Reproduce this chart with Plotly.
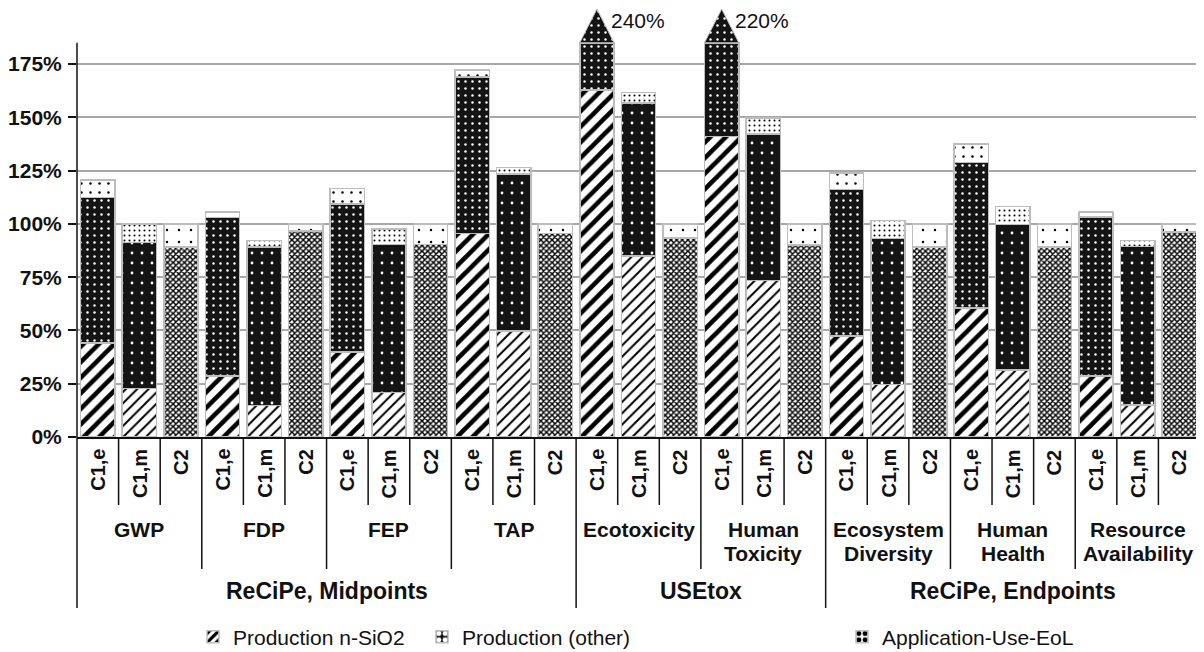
import plotly.graph_objects as go

# ---------------- data ----------------
scenarios = ["C1,e", "C1,m", "C2"]
groups = ["GWP", "FDP", "FEP", "TAP", "Ecotoxicity", "Human<br>Toxicity",
          "Ecosystem<br>Diversity", "Human<br>Health", "Resource<br>Availability"]
families = ["ReCiPe, Midpoints", "USEtox", "ReCiPe, Endpoints"]
family_sizes = [4, 2, 3]          # number of indicator groups per family
series_names = ["Production n-SiO2", "Production (other)", "Application-Use-EoL"]

# values in % (order: group x scenario)
nsio2 = [44.0, 22.8, 0.0, 28.6, 14.7, 0.0, 40.0, 20.8, 0.0,
         95.6, 49.7, 0.0, 162.8, 84.9, 0.0, 140.9, 73.5, 0.0,
         47.4, 24.7, 0.0, 60.5, 31.4, 0.0, 28.6, 15.0, 0.0]
other = [68.3, 68.4, 89.2, 74.3, 74.5, 96.7, 69.3, 69.6, 90.4,
         73.4, 73.7, 95.6, 72.2, 71.8, 93.5, 71.5, 68.7, 90.1,
         68.8, 68.5, 89.2, 68.4, 68.4, 89.2, 74.6, 74.3, 96.2]
app = [8.3, 8.8, 10.8, 2.8, 2.9, 3.3, 7.4, 7.2, 9.6,
       3.2, 3.0, 4.4, 5.0, 4.9, 6.5, 7.6, 7.6, 9.9,
       7.8, 8.3, 10.8, 8.5, 8.3, 10.8, 2.4, 2.8, 3.8]

y_ticks = [0, 25, 50, 75, 100, 125, 150, 175]
y_tick_labels = [f"{v}%" for v in y_ticks]

# ---------------- style / geometry ----------------
FONT = "Liberation Sans, Arial, sans-serif"
CAP = 185.0          # axis break value
ARROW_TIP = 200.8
BAR_W = 0.825
OFF = 8              # default page margin of the html body
W, H = 1204 - OFF, 652 - OFF
M_L, M_R = 77 - OFF, 4
Y0_PAGE = 437        # page row of the 0 % line
PX_PER_PCT = 2.131
M_B = H - (Y0_PAGE - OFF)
M_T = 0
PLOT_H = H - M_T - M_B
Y_TOP = PLOT_H / PX_PER_PCT


def py(page_px):
    """page pixel row -> paper y"""
    return (Y0_PAGE - page_px) / PLOT_H


n = len(groups) * len(scenarios)
xs = list(range(n))

# capped stacked segments
seg1, seg2, seg3, totals = [], [], [], []
for a, b, c in zip(nsio2, other, app):
    t = a + b + c
    totals.append(t)
    s1 = min(a, CAP)
    s2 = min(a + b, CAP) - s1
    s3 = min(t, CAP) - s1 - s2
    seg1.append(s1)
    seg2.append(s2)
    seg3.append(s3)


def per_bar(lst):
    return [lst[i % len(scenarios)] for i in range(n)]


DARK = "#141414"
patterns = [
    dict(shape=["/", "/", "/"], size=[11, 8, 9], solidity=[0.42, 0.25, 0.3],
         fg=["black", "black", "black"], bg=["white", "white", "white"], legend_color="black"),
    dict(shape=[".", ".", "x"], size=[7, 10, 4], solidity=[0.1, 0.06, 0.6],
         fg=["white", "white", "black"], bg=[DARK, DARK, "white"], legend_color=DARK),
    dict(shape=[".", ".", "."], size=[9, 5, 12], solidity=[0.06, 0.13, 0.035],
         fg=["black", "black", "black"], bg=["white", "white", "white"], legend_color="black"),
]

fig = go.Figure()
legend_ids = ["legend", "legend2", "legend3"]
for k, (name, vals, pat) in enumerate(zip(series_names, [seg1, seg2, seg3], patterns)):
    fig.add_trace(go.Bar(
        x=xs, y=vals, name=name, width=BAR_W,
        legend=legend_ids[k],
        marker=dict(
            color=pat["legend_color"],
            line=dict(color="#bdbdbd", width=1.5),
            pattern=dict(shape=per_bar(pat["shape"]), size=per_bar(pat["size"]),
                         solidity=per_bar(pat["solidity"]),
                         fgcolor=per_bar(pat["fg"]), bgcolor=per_bar(pat["bg"]),
                         fillmode="replace"),
        ),
        hoverinfo="skip",
    ))

annotations = []
# arrows for bars exceeding the axis break
for i, t in enumerate(totals):
    if t > CAP:
        fig.add_trace(go.Scatter(
            x=[i - BAR_W / 2, i, i + BAR_W / 2, i - BAR_W / 2],
            y=[CAP, ARROW_TIP, CAP, CAP],
            mode="lines", fill="toself",
            line=dict(color="#bdbdbd", width=1),
            fillcolor=DARK,
            fillpattern=dict(shape=".", size=7, solidity=0.1, fgcolor="white",
                             bgcolor=DARK, fillmode="replace"),
            showlegend=False, hoverinfo="skip",
        ))
        annotations.append(dict(
            x=i + 0.28, y=195.5, xref="x", yref="y", xanchor="left", yanchor="middle",
            text=f"{t:.0f}%", showarrow=False,
            font=dict(family=FONT, size=21, color="#111"),
        ))

# scenario labels
for i in xs:
    annotations.append(dict(
        x=i, xref="x", y=py(447), yref="paper", yanchor="top", xanchor="center",
        text=scenarios[i % len(scenarios)], textangle=-90, showarrow=False,
        font=dict(family=FONT, size=20, color="#111", weight="bold"),
    ))
# group labels (one annotation per line, 24 px line spacing)
for g, name in enumerate(groups):
    for j, line in enumerate(name.split("<br>")):
        annotations.append(dict(
            x=g * 3 + 1, xref="x", y=py(529 + 24 * j), yref="paper", yanchor="middle",
            xanchor="center", text=line, showarrow=False,
            font=dict(family=FONT, size=21, color="#111", weight="bold"),
        ))
# family labels
start = 0
for fam, size in zip(families, family_sizes):
    nb = size * 3
    annotations.append(dict(
        x=start + (nb - 1) / 2, xref="x", y=py(591), yref="paper", yanchor="middle",
        xanchor="center", text=fam, showarrow=False,
        font=dict(family=FONT, size=23, color="#111", weight="bold"),
    ))
    start += nb

# separator lines below the axis
shapes = []
fam_bounds = [0]
for size in family_sizes:
    fam_bounds.append(fam_bounds[-1] + size * 3)
for b in range(n + 1):
    if b in fam_bounds:
        end = 608
    elif b % 3 == 0:
        end = 569
    else:
        end = 505
    shapes.append(dict(type="line", xref="paper", yref="paper",
                       x0=b / n, x1=b / n, y0=0, y1=py(end),
                       line=dict(color="#111", width=1.5)))
# y axis line up to the break
shapes.append(dict(type="line", xref="paper", yref="y", x0=0, x1=0, y0=0, y1=CAP,
                   line=dict(color="#111", width=1.5)))

legend_x_page = [193, 422, 842]
legend_common = dict(orientation="h", yref="paper", y=py(637), yanchor="middle",
                     xref="container", xanchor="left", bgcolor="rgba(0,0,0,0)",
                     font=dict(family=FONT, size=21, color="#111"))

fig.update_layout(
    width=W, height=H,
    margin=dict(l=M_L, r=M_R, t=M_T, b=M_B, autoexpand=False),
    barmode="stack",
    plot_bgcolor="white", paper_bgcolor="white",
    font=dict(family=FONT, color="#111"),
    xaxis=dict(range=[-0.5, n - 0.5], showticklabels=False, ticks="",
               showgrid=False, zeroline=False, showline=True,
               linecolor="#111", linewidth=1.5, automargin=False),
    yaxis=dict(range=[0, Y_TOP], tickvals=y_ticks, ticktext=y_tick_labels,
               showgrid=True, gridcolor="#a8a8a8", gridwidth=1.5,
               zeroline=False, showline=False, ticks="outside", ticklen=8,
               tickcolor="#111", tickwidth=1.5, ticklabelstandoff=2, automargin=False,
               tickfont=dict(family=FONT, size=21, color="#111", weight="bold")),
    annotations=annotations,
    shapes=shapes,
    legend=dict(legend_common, x=(legend_x_page[0] - OFF) / W),
    legend2=dict(legend_common, x=(legend_x_page[1] - OFF) / W),
    legend3=dict(legend_common, x=(legend_x_page[2] - OFF) / W),
)

fig.write_html("out.html")
